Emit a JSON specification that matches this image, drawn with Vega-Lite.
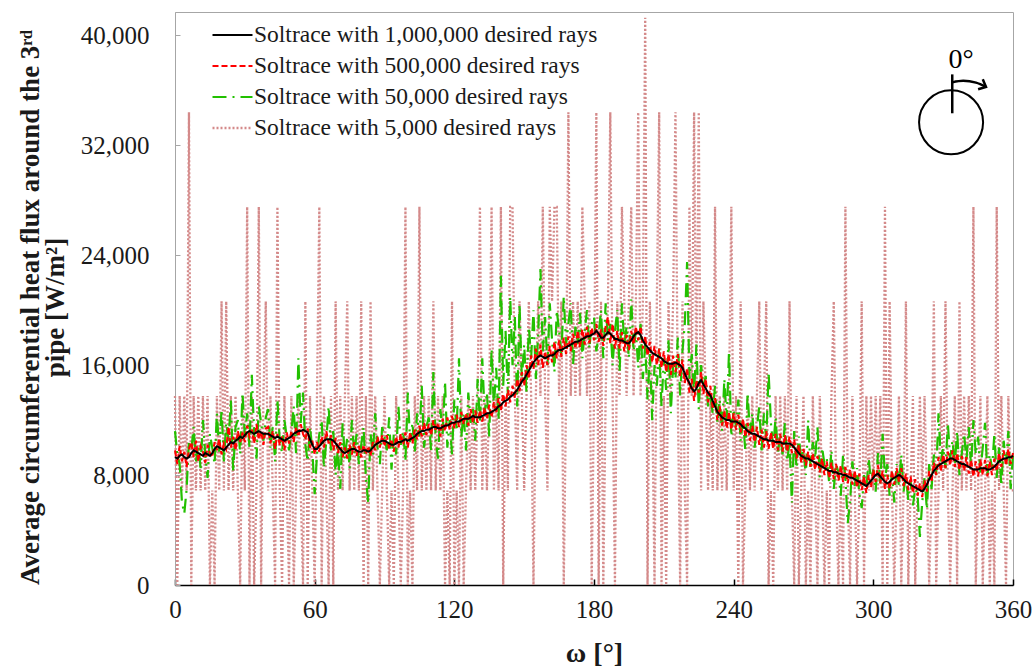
{
"$schema": "https://vega.github.io/schema/vega-lite/v6.json",
"width": 838, "height": 573,
"autosize": "none",
"padding": {"left": 175, "top": 12, "right": 23, "bottom": 86},
"background": "white",
"config": {"view": {"stroke": "#a6a6a6", "strokeWidth": 1}, "font": "Liberation Serif", "axis": {"grid": false, "labelFont": "Liberation Serif", "titleFont": "Liberation Serif"}},
"layer": [
{
"data": {"values": [
{"w":0,"a":9300,"b":9800,"c":11200,"d":13760},
{"w":1,"a":9200,"b":8800,"c":9500,"d":0},
{"w":2,"a":9400,"b":10100,"c":8800,"d":13760},
{"w":3,"a":9500,"b":9000,"c":6000,"d":6880},
{"w":4,"a":9300,"b":9700,"c":5200,"d":13760},
{"w":5,"a":9200,"b":8600,"c":7000,"d":6880},
{"w":6,"a":9300,"b":9900,"c":10500,"d":34400},
{"w":7,"a":9600,"b":10400,"c":9800,"d":0},
{"w":8,"a":9800,"b":9300,"c":11500,"d":13760},
{"w":9,"a":9700,"b":10500,"c":9000,"d":6880},
{"w":10,"a":9600,"b":9000,"c":10200,"d":13760},
{"w":11,"a":9500,"b":10100,"c":8500,"d":6880},
{"w":12,"a":9400,"b":9700,"c":12000,"d":13760},
{"w":13,"a":9600,"b":8900,"c":9500,"d":6880},
{"w":14,"a":9500,"b":10200,"c":7800,"d":13760},
{"w":15,"a":9400,"b":9600,"c":11000,"d":0},
{"w":16,"a":9600,"b":9300,"c":10000,"d":6880},
{"w":17,"a":9900,"b":10400,"c":8800,"d":0},
{"w":18,"a":10100,"b":9800,"c":12500,"d":13760},
{"w":19,"a":10000,"b":10600,"c":9700,"d":6880},
{"w":20,"a":9900,"b":9500,"c":12800,"d":20640},
{"w":21,"a":9800,"b":10300,"c":9000,"d":6880},
{"w":22,"a":10000,"b":9900,"c":11800,"d":20640},
{"w":23,"a":10200,"b":11500,"c":10500,"d":6880},
{"w":24,"a":10400,"b":10000,"c":13500,"d":13760},
{"w":25,"a":10300,"b":10800,"c":8200,"d":6880},
{"w":26,"a":10500,"b":9800,"c":11500,"d":13760},
{"w":27,"a":10600,"b":11200,"c":12000,"d":6880},
{"w":28,"a":10800,"b":10400,"c":9500,"d":0},
{"w":29,"a":10700,"b":11100,"c":14000,"d":13760},
{"w":30,"a":10900,"b":10400,"c":10800,"d":6880},
{"w":31,"a":11100,"b":11600,"c":12500,"d":27520},
{"w":32,"a":11200,"b":10800,"c":10000,"d":0},
{"w":33,"a":11100,"b":11300,"c":15300,"d":13760},
{"w":34,"a":11000,"b":10300,"c":11000,"d":0},
{"w":35,"a":11100,"b":11700,"c":9200,"d":6880},
{"w":36,"a":11200,"b":10600,"c":13000,"d":27520},
{"w":37,"a":11100,"b":11200,"c":11800,"d":0},
{"w":38,"a":11000,"b":10200,"c":10500,"d":13760},
{"w":39,"a":11000,"b":11400,"c":12200,"d":20640},
{"w":40,"a":11000,"b":11500,"c":12800,"d":6880},
{"w":41,"a":10900,"b":10300,"c":10000,"d":13760},
{"w":42,"a":10800,"b":11200,"c":11500,"d":6880},
{"w":43,"a":10700,"b":9900,"c":9000,"d":0},
{"w":44,"a":10800,"b":11000,"c":13500,"d":27520},
{"w":45,"a":10700,"b":10200,"c":10500,"d":6880},
{"w":46,"a":10600,"b":10800,"c":9600,"d":0},
{"w":47,"a":10500,"b":9800,"c":12000,"d":13760},
{"w":48,"a":10600,"b":11100,"c":10800,"d":6880},
{"w":49,"a":10700,"b":10300,"c":9800,"d":0},
{"w":50,"a":10800,"b":11200,"c":11200,"d":13760},
{"w":51,"a":11000,"b":10400,"c":13000,"d":0},
{"w":52,"a":11100,"b":11500,"c":9600,"d":6880},
{"w":53,"a":11200,"b":10800,"c":16500,"d":13760},
{"w":54,"a":11200,"b":11700,"c":11800,"d":6880},
{"w":55,"a":11300,"b":11000,"c":14000,"d":0},
{"w":56,"a":11200,"b":10600,"c":10200,"d":20640},
{"w":57,"a":11100,"b":11400,"c":9000,"d":0},
{"w":58,"a":10600,"b":10000,"c":11500,"d":13760},
{"w":59,"a":10200,"b":10500,"c":9800,"d":6880},
{"w":60,"a":9900,"b":9500,"c":6600,"d":0},
{"w":61,"a":9900,"b":10400,"c":9500,"d":13760},
{"w":62,"a":10100,"b":9700,"c":11000,"d":27520},
{"w":63,"a":10300,"b":10800,"c":12000,"d":0},
{"w":64,"a":10500,"b":10000,"c":8500,"d":13760},
{"w":65,"a":10600,"b":11200,"c":10500,"d":6880},
{"w":66,"a":10600,"b":10300,"c":13000,"d":0},
{"w":67,"a":10600,"b":10900,"c":9800,"d":13760},
{"w":68,"a":10500,"b":9800,"c":11200,"d":0},
{"w":69,"a":10300,"b":10700,"c":8000,"d":20640},
{"w":70,"a":10100,"b":9600,"c":10000,"d":6880},
{"w":71,"a":9900,"b":10400,"c":7000,"d":13760},
{"w":72,"a":9700,"b":9300,"c":11800,"d":6880},
{"w":73,"a":9600,"b":10000,"c":9200,"d":13760},
{"w":74,"a":9700,"b":9200,"c":10800,"d":20640},
{"w":75,"a":9800,"b":10200,"c":8500,"d":6880},
{"w":76,"a":9900,"b":9500,"c":12000,"d":13760},
{"w":77,"a":9900,"b":10400,"c":9500,"d":6880},
{"w":78,"a":9800,"b":9400,"c":11000,"d":13760},
{"w":79,"a":9700,"b":10100,"c":8800,"d":6880},
{"w":80,"a":9700,"b":9300,"c":10200,"d":20640},
{"w":81,"a":9800,"b":10200,"c":11500,"d":0},
{"w":82,"a":9800,"b":9500,"c":7800,"d":13760},
{"w":83,"a":9700,"b":10100,"c":6000,"d":0},
{"w":84,"a":9800,"b":9400,"c":11000,"d":20640},
{"w":85,"a":10000,"b":10400,"c":9500,"d":6880},
{"w":86,"a":10200,"b":9800,"c":12500,"d":13760},
{"w":87,"a":10300,"b":10800,"c":10000,"d":6880},
{"w":88,"a":10400,"b":10000,"c":8800,"d":0},
{"w":89,"a":10500,"b":10900,"c":11500,"d":6880},
{"w":90,"a":10500,"b":10100,"c":10800,"d":13760},
{"w":91,"a":10400,"b":10900,"c":9800,"d":6880},
{"w":92,"a":10300,"b":9900,"c":12200,"d":0},
{"w":93,"a":10200,"b":10600,"c":8400,"d":6880},
{"w":94,"a":10200,"b":9700,"c":11000,"d":0},
{"w":95,"a":10300,"b":10800,"c":9500,"d":13760},
{"w":96,"a":10400,"b":10000,"c":13000,"d":6880},
{"w":97,"a":10400,"b":11000,"c":10200,"d":0},
{"w":98,"a":10500,"b":10200,"c":11200,"d":6880},
{"w":99,"a":10600,"b":11100,"c":9000,"d":27520},
{"w":100,"a":10500,"b":10000,"c":14000,"d":0},
{"w":101,"a":10600,"b":11100,"c":10400,"d":6880},
{"w":102,"a":10700,"b":10300,"c":11800,"d":0},
{"w":103,"a":10800,"b":11300,"c":9600,"d":13760},
{"w":104,"a":11000,"b":10600,"c":12500,"d":6880},
{"w":105,"a":11100,"b":11600,"c":10800,"d":27520},
{"w":106,"a":11200,"b":10800,"c":14500,"d":6880},
{"w":107,"a":11200,"b":11800,"c":10000,"d":13760},
{"w":108,"a":11300,"b":10900,"c":11500,"d":6880},
{"w":109,"a":11300,"b":11700,"c":12200,"d":13760},
{"w":110,"a":11400,"b":10900,"c":9800,"d":6880},
{"w":111,"a":11500,"b":12000,"c":15500,"d":20640},
{"w":112,"a":11500,"b":11200,"c":10500,"d":6880},
{"w":113,"a":11400,"b":11800,"c":9200,"d":13760},
{"w":114,"a":11400,"b":10800,"c":12800,"d":6880},
{"w":115,"a":11500,"b":12100,"c":11000,"d":13760},
{"w":116,"a":11600,"b":11200,"c":14800,"d":0},
{"w":117,"a":11600,"b":12200,"c":10000,"d":6880},
{"w":118,"a":11700,"b":11300,"c":12000,"d":0},
{"w":119,"a":11800,"b":12300,"c":9500,"d":20640},
{"w":120,"a":11800,"b":11400,"c":13500,"d":0},
{"w":121,"a":11900,"b":12400,"c":11200,"d":6880},
{"w":122,"a":11900,"b":11500,"c":16500,"d":0},
{"w":123,"a":12000,"b":12600,"c":10800,"d":13760},
{"w":124,"a":12100,"b":11700,"c":12500,"d":0},
{"w":125,"a":12100,"b":12500,"c":9800,"d":6880},
{"w":126,"a":12100,"b":11600,"c":14000,"d":13760},
{"w":127,"a":12200,"b":12800,"c":11800,"d":6880},
{"w":128,"a":12300,"b":11800,"c":13000,"d":13760},
{"w":129,"a":12200,"b":12700,"c":10500,"d":6880},
{"w":130,"a":12200,"b":11800,"c":15000,"d":13760},
{"w":131,"a":12200,"b":12700,"c":11800,"d":27520},
{"w":132,"a":12300,"b":11900,"c":16500,"d":6880},
{"w":133,"a":12400,"b":12900,"c":12500,"d":13760},
{"w":134,"a":12500,"b":12100,"c":14000,"d":6880},
{"w":135,"a":12500,"b":13100,"c":10800,"d":13760},
{"w":136,"a":12600,"b":12200,"c":17200,"d":27520},
{"w":137,"a":12700,"b":13300,"c":13000,"d":6880},
{"w":138,"a":12800,"b":12500,"c":15800,"d":13760},
{"w":139,"a":13000,"b":13600,"c":12000,"d":6880},
{"w":140,"a":13100,"b":12700,"c":22500,"d":27520},
{"w":141,"a":13300,"b":13900,"c":14500,"d":0},
{"w":142,"a":13400,"b":13000,"c":18500,"d":13760},
{"w":143,"a":13500,"b":14200,"c":13800,"d":6880},
{"w":144,"a":13700,"b":13300,"c":21000,"d":27520},
{"w":145,"a":13800,"b":14500,"c":16000,"d":27520},
{"w":146,"a":14000,"b":13600,"c":19500,"d":13760},
{"w":147,"a":14200,"b":15000,"c":13000,"d":6880},
{"w":148,"a":14500,"b":14100,"c":20500,"d":20640},
{"w":149,"a":14800,"b":15500,"c":15000,"d":13760},
{"w":150,"a":15000,"b":14500,"c":17500,"d":6880},
{"w":151,"a":15300,"b":16000,"c":14000,"d":13760},
{"w":152,"a":15600,"b":15000,"c":18800,"d":20640},
{"w":153,"a":15900,"b":16700,"c":16500,"d":13760},
{"w":154,"a":16200,"b":15700,"c":20000,"d":0},
{"w":155,"a":16400,"b":17200,"c":15000,"d":13760},
{"w":156,"a":16600,"b":16000,"c":18200,"d":20640},
{"w":157,"a":16700,"b":17500,"c":23000,"d":13760},
{"w":158,"a":16600,"b":15800,"c":17000,"d":27520},
{"w":159,"a":16500,"b":17000,"c":19500,"d":13760},
{"w":160,"a":16600,"b":16000,"c":16000,"d":6880},
{"w":161,"a":16700,"b":17400,"c":20500,"d":27520},
{"w":162,"a":16700,"b":16200,"c":17800,"d":20640},
{"w":163,"a":16800,"b":17700,"c":15500,"d":27520},
{"w":164,"a":17000,"b":16500,"c":20000,"d":27520},
{"w":165,"a":17100,"b":17800,"c":18500,"d":13760},
{"w":166,"a":17100,"b":16600,"c":16800,"d":20640},
{"w":167,"a":17200,"b":18000,"c":21000,"d":0},
{"w":168,"a":17300,"b":16800,"c":17500,"d":13760},
{"w":169,"a":17400,"b":18100,"c":19000,"d":34400},
{"w":170,"a":17500,"b":17000,"c":20500,"d":13760},
{"w":171,"a":17600,"b":18300,"c":16000,"d":20640},
{"w":172,"a":17700,"b":17200,"c":18800,"d":13760},
{"w":173,"a":17700,"b":18500,"c":17500,"d":20640},
{"w":174,"a":17800,"b":17300,"c":19800,"d":13760},
{"w":175,"a":17900,"b":18600,"c":16500,"d":27520},
{"w":176,"a":18000,"b":17500,"c":18500,"d":20640},
{"w":177,"a":18100,"b":18800,"c":20000,"d":13760},
{"w":178,"a":18100,"b":17600,"c":17200,"d":20640},
{"w":179,"a":18200,"b":18700,"c":19000,"d":0},
{"w":180,"a":18300,"b":17800,"c":19500,"d":13760},
{"w":181,"a":18500,"b":19000,"c":17000,"d":34400},
{"w":182,"a":18300,"b":17700,"c":18200,"d":0},
{"w":183,"a":18000,"b":18600,"c":20000,"d":20640},
{"w":184,"a":18000,"b":17400,"c":16500,"d":0},
{"w":185,"a":18200,"b":18800,"c":20500,"d":13760},
{"w":186,"a":18400,"b":19500,"c":17800,"d":20640},
{"w":187,"a":18300,"b":17600,"c":19000,"d":34400},
{"w":188,"a":18100,"b":19000,"c":16000,"d":13760},
{"w":189,"a":17900,"b":17200,"c":18500,"d":0},
{"w":190,"a":17900,"b":18500,"c":20000,"d":20640},
{"w":191,"a":17800,"b":17200,"c":15500,"d":13760},
{"w":192,"a":17800,"b":18400,"c":20500,"d":27520},
{"w":193,"a":17700,"b":17000,"c":17500,"d":20640},
{"w":194,"a":17600,"b":18200,"c":18800,"d":13760},
{"w":195,"a":17600,"b":17100,"c":16500,"d":20640},
{"w":196,"a":17800,"b":18500,"c":20800,"d":27520},
{"w":197,"a":18100,"b":17500,"c":17000,"d":13760},
{"w":198,"a":18300,"b":18800,"c":18500,"d":20640},
{"w":199,"a":18400,"b":17800,"c":15800,"d":34400},
{"w":200,"a":18200,"b":18800,"c":19000,"d":13760},
{"w":201,"a":17800,"b":17200,"c":15000,"d":20640},
{"w":202,"a":17500,"b":18100,"c":17500,"d":41280},
{"w":203,"a":17300,"b":16700,"c":13500,"d":0},
{"w":204,"a":17100,"b":17700,"c":16800,"d":20640},
{"w":205,"a":16900,"b":16200,"c":12000,"d":13760},
{"w":206,"a":16800,"b":17400,"c":16000,"d":0},
{"w":207,"a":16700,"b":16000,"c":14500,"d":20640},
{"w":208,"a":16600,"b":17200,"c":17200,"d":34400},
{"w":209,"a":16500,"b":15800,"c":13000,"d":0},
{"w":210,"a":16300,"b":17000,"c":16500,"d":13760},
{"w":211,"a":16200,"b":15500,"c":14200,"d":0},
{"w":212,"a":16100,"b":16800,"c":17800,"d":20640},
{"w":213,"a":16100,"b":15300,"c":12500,"d":13760},
{"w":214,"a":16100,"b":16700,"c":16000,"d":20640},
{"w":215,"a":16200,"b":15500,"c":15000,"d":34400},
{"w":216,"a":16100,"b":16800,"c":18000,"d":13760},
{"w":217,"a":16000,"b":15200,"c":13800,"d":0},
{"w":218,"a":15800,"b":16400,"c":17000,"d":20640},
{"w":219,"a":15400,"b":14700,"c":19000,"d":6880},
{"w":220,"a":15000,"b":15800,"c":23500,"d":0},
{"w":221,"a":14700,"b":14000,"c":15000,"d":27520},
{"w":222,"a":14300,"b":15000,"c":16800,"d":13760},
{"w":223,"a":14100,"b":13400,"c":14000,"d":34400},
{"w":224,"a":14300,"b":14900,"c":17500,"d":13760},
{"w":225,"a":14700,"b":14000,"c":12800,"d":34400},
{"w":226,"a":14900,"b":15500,"c":16000,"d":6880},
{"w":227,"a":14600,"b":13900,"c":14500,"d":20640},
{"w":228,"a":14300,"b":15000,"c":15200,"d":13760},
{"w":229,"a":14000,"b":13300,"c":13000,"d":6880},
{"w":230,"a":13800,"b":14500,"c":13800,"d":13760},
{"w":231,"a":13400,"b":12800,"c":12500,"d":6880},
{"w":232,"a":13000,"b":13600,"c":14500,"d":27520},
{"w":233,"a":12600,"b":12000,"c":11800,"d":6880},
{"w":234,"a":12400,"b":13000,"c":13500,"d":13760},
{"w":235,"a":12200,"b":11600,"c":11200,"d":6880},
{"w":236,"a":12100,"b":12700,"c":15000,"d":13760},
{"w":237,"a":12000,"b":11400,"c":12000,"d":6880},
{"w":238,"a":12000,"b":12600,"c":17000,"d":13760},
{"w":239,"a":11900,"b":11300,"c":10800,"d":27520},
{"w":240,"a":11900,"b":12500,"c":12800,"d":6880},
{"w":241,"a":11900,"b":11300,"c":11500,"d":13760},
{"w":242,"a":11800,"b":12400,"c":13500,"d":0},
{"w":243,"a":11700,"b":11100,"c":10500,"d":20640},
{"w":244,"a":11500,"b":12100,"c":12000,"d":0},
{"w":245,"a":11400,"b":10800,"c":9800,"d":6880},
{"w":246,"a":11200,"b":11800,"c":14000,"d":13760},
{"w":247,"a":11100,"b":10500,"c":11000,"d":6880},
{"w":248,"a":11000,"b":11600,"c":12500,"d":13760},
{"w":249,"a":11000,"b":10400,"c":10000,"d":6880},
{"w":250,"a":10900,"b":11500,"c":11500,"d":13760},
{"w":251,"a":10800,"b":10200,"c":13000,"d":20640},
{"w":252,"a":10700,"b":11300,"c":9800,"d":6880},
{"w":253,"a":10600,"b":10000,"c":12500,"d":13760},
{"w":254,"a":10600,"b":11200,"c":10500,"d":20640},
{"w":255,"a":10500,"b":9900,"c":15500,"d":0},
{"w":256,"a":10500,"b":11100,"c":11800,"d":6880},
{"w":257,"a":10500,"b":9900,"c":10000,"d":0},
{"w":258,"a":10400,"b":11000,"c":12200,"d":13760},
{"w":259,"a":10400,"b":9800,"c":9600,"d":6880},
{"w":260,"a":10400,"b":11000,"c":11000,"d":13760},
{"w":261,"a":10300,"b":9700,"c":9500,"d":6880},
{"w":262,"a":10300,"b":10900,"c":11800,"d":13760},
{"w":263,"a":10300,"b":9700,"c":9000,"d":6880},
{"w":264,"a":10300,"b":10800,"c":10400,"d":20640},
{"w":265,"a":10200,"b":9600,"c":6000,"d":6880},
{"w":266,"a":10000,"b":10600,"c":11200,"d":0},
{"w":267,"a":9800,"b":9200,"c":8500,"d":13760},
{"w":268,"a":9600,"b":10200,"c":10800,"d":0},
{"w":269,"a":9400,"b":8900,"c":9200,"d":6880},
{"w":270,"a":9300,"b":9900,"c":9800,"d":13760},
{"w":271,"a":9200,"b":8700,"c":8000,"d":0},
{"w":272,"a":9200,"b":9700,"c":12000,"d":6880},
{"w":273,"a":9100,"b":8600,"c":8600,"d":0},
{"w":274,"a":9000,"b":9600,"c":10400,"d":13760},
{"w":275,"a":8900,"b":8400,"c":9200,"d":6880},
{"w":276,"a":8800,"b":9400,"c":11500,"d":0},
{"w":277,"a":8700,"b":8200,"c":7800,"d":13760},
{"w":278,"a":8600,"b":9200,"c":10000,"d":6880},
{"w":279,"a":8500,"b":8000,"c":8800,"d":0},
{"w":280,"a":8400,"b":9000,"c":9200,"d":6880},
{"w":281,"a":8300,"b":7800,"c":7500,"d":0},
{"w":282,"a":8300,"b":8900,"c":9800,"d":13760},
{"w":283,"a":8200,"b":7700,"c":7000,"d":20640},
{"w":284,"a":8200,"b":8800,"c":8800,"d":6880},
{"w":285,"a":8100,"b":7600,"c":8200,"d":0},
{"w":286,"a":8100,"b":8700,"c":6500,"d":6880},
{"w":287,"a":8000,"b":7500,"c":9500,"d":0},
{"w":288,"a":8000,"b":8600,"c":7800,"d":27520},
{"w":289,"a":7900,"b":7400,"c":4500,"d":6880},
{"w":290,"a":7800,"b":8400,"c":6000,"d":0},
{"w":291,"a":7800,"b":7300,"c":9000,"d":13760},
{"w":292,"a":7700,"b":8300,"c":7200,"d":6880},
{"w":293,"a":7600,"b":7100,"c":8500,"d":0},
{"w":294,"a":7500,"b":8100,"c":6600,"d":6880},
{"w":295,"a":7400,"b":6900,"c":5600,"d":20640},
{"w":296,"a":7300,"b":7900,"c":8000,"d":0},
{"w":297,"a":7200,"b":6700,"c":7000,"d":13760},
{"w":298,"a":7400,"b":8000,"c":9200,"d":6880},
{"w":299,"a":7600,"b":7100,"c":7500,"d":13760},
{"w":300,"a":7800,"b":8400,"c":8400,"d":6880},
{"w":301,"a":8000,"b":7500,"c":6800,"d":13760},
{"w":302,"a":8100,"b":8700,"c":9600,"d":6880},
{"w":303,"a":7900,"b":7400,"c":7400,"d":13760},
{"w":304,"a":7700,"b":8300,"c":11000,"d":0},
{"w":305,"a":7500,"b":7000,"c":7800,"d":27520},
{"w":306,"a":7400,"b":8000,"c":8800,"d":0},
{"w":307,"a":7500,"b":7000,"c":6500,"d":20640},
{"w":308,"a":7700,"b":8300,"c":8200,"d":6880},
{"w":309,"a":7800,"b":7300,"c":6000,"d":0},
{"w":310,"a":7900,"b":8500,"c":8800,"d":6880},
{"w":311,"a":8000,"b":7500,"c":7200,"d":13760},
{"w":312,"a":7900,"b":8500,"c":9500,"d":0},
{"w":313,"a":7700,"b":7200,"c":6800,"d":6880},
{"w":314,"a":7500,"b":8100,"c":8000,"d":20640},
{"w":315,"a":7400,"b":6900,"c":6200,"d":0},
{"w":316,"a":7300,"b":7900,"c":7600,"d":6880},
{"w":317,"a":7200,"b":6700,"c":5800,"d":13760},
{"w":318,"a":7100,"b":7700,"c":7000,"d":0},
{"w":319,"a":7000,"b":6500,"c":6600,"d":6880},
{"w":320,"a":6900,"b":7400,"c":3500,"d":13760},
{"w":321,"a":6800,"b":6400,"c":6000,"d":6880},
{"w":322,"a":7000,"b":7600,"c":7800,"d":13760},
{"w":323,"a":7300,"b":6800,"c":5500,"d":6880},
{"w":324,"a":7700,"b":8300,"c":8800,"d":0},
{"w":325,"a":8000,"b":7500,"c":7000,"d":6880},
{"w":326,"a":8300,"b":8900,"c":9500,"d":20640},
{"w":327,"a":8500,"b":8000,"c":8000,"d":0},
{"w":328,"a":8700,"b":9300,"c":12500,"d":6880},
{"w":329,"a":8800,"b":8300,"c":9000,"d":13760},
{"w":330,"a":8900,"b":9500,"c":10000,"d":6880},
{"w":331,"a":9000,"b":8500,"c":8500,"d":20640},
{"w":332,"a":9100,"b":9700,"c":11800,"d":6880},
{"w":333,"a":9200,"b":8700,"c":9200,"d":0},
{"w":334,"a":9200,"b":9800,"c":10500,"d":6880},
{"w":335,"a":9100,"b":8600,"c":8800,"d":13760},
{"w":336,"a":9000,"b":9600,"c":11200,"d":0},
{"w":337,"a":8900,"b":8400,"c":8000,"d":20640},
{"w":338,"a":8800,"b":9400,"c":9600,"d":6880},
{"w":339,"a":8800,"b":8300,"c":11000,"d":13760},
{"w":340,"a":8700,"b":9300,"c":9000,"d":6880},
{"w":341,"a":8600,"b":8100,"c":11500,"d":13760},
{"w":342,"a":8500,"b":9100,"c":8500,"d":6880},
{"w":343,"a":8400,"b":7900,"c":12000,"d":27520},
{"w":344,"a":8400,"b":9000,"c":9500,"d":0},
{"w":345,"a":8400,"b":7900,"c":10800,"d":6880},
{"w":346,"a":8500,"b":9100,"c":8200,"d":13760},
{"w":347,"a":8500,"b":8000,"c":10000,"d":0},
{"w":348,"a":8500,"b":9100,"c":11800,"d":6880},
{"w":349,"a":8400,"b":7900,"c":8000,"d":13760},
{"w":350,"a":8400,"b":9000,"c":9500,"d":0},
{"w":351,"a":8500,"b":8000,"c":8500,"d":6880},
{"w":352,"a":8600,"b":9200,"c":11000,"d":0},
{"w":353,"a":8800,"b":8300,"c":7800,"d":27520},
{"w":354,"a":9000,"b":9600,"c":10000,"d":6880},
{"w":355,"a":9100,"b":8600,"c":7200,"d":13760},
{"w":356,"a":9200,"b":9800,"c":10500,"d":6880},
{"w":357,"a":9200,"b":8700,"c":8800,"d":0},
{"w":358,"a":9300,"b":9900,"c":11200,"d":13760},
{"w":359,"a":9300,"b":8800,"c":7000,"d":6880},
{"w":360,"a":9400,"b":9600,"c":9500,"d":6880}
]},
"transform": [{"fold": ["d", "c", "b", "a"], "as": ["s", "v"]}],
"mark": {"type": "line"},
"encoding": {
"x": {"field": "w", "type": "quantitative", "scale": {"domain": [0, 360], "nice": false, "zero": false},
 "axis": {"title": "ω [°]", "values": [0, 60, 120, 180, 240, 300, 360], "domainColor": "#000000", "domainWidth": 1.5, "tickColor": "#000000", "tickWidth": 1.5, "tickSize": -6, "labelFontSize": 25, "labelColor": "#1a1a1a", "labelPadding": 18, "labelFlush": false, "titleFontSize": 28, "titleFontWeight": "bold", "titleColor": "#1a1a1a", "titlePadding": 17}},
"y": {"field": "v", "type": "quantitative", "scale": {"domain": [0, 41700], "nice": false},
 "axis": {"title": ["Average circumferential heat flux around the 3ʳᵈ", "pipe [W/m²]"], "values": [0, 8000, 16000, 24000, 32000, 40000], "format": ",.0f", "domainColor": "#a6a6a6", "tickColor": "#a6a6a6", "tickSize": -5, "labelFontSize": 25, "labelColor": "#1a1a1a", "labelPadding": 31, "titleFontSize": 27, "titleFontWeight": "bold", "titleColor": "#1a1a1a", "titleAngle": -90, "titleX": -137, "titleY": 295, "titleAlign": "center", "titleBaseline": "alphabetic", "titleLineHeight": 25}},
"color": {"field": "s", "type": "nominal", "scale": {"domain": ["a", "b", "c", "d"], "range": ["#000000", "#ff0000", "#22c000", "#d48a8a"]},
 "legend": {"title": null, "orient": "none", "legendX": 36, "legendY": 11, "padding": 0, "symbolType": "stroke", "symbolSize": 1600, "labelFont": "Liberation Serif", "labelFontSize": 23.5, "labelColor": "#1a1a1a", "labelOffset": 0, "rowPadding": 7, "clipHeight": 24, "labelLimit": 500, "labelExpr": "datum.value == 'a' ? 'Soltrace with 1,000,000 desired rays' : datum.value == 'b' ? 'Soltrace with 500,000 desired rays' : datum.value == 'c' ? 'Soltrace with 50,000 desired rays' : 'Soltrace with 5,000 desired rays'"}},
"strokeDash": {"field": "s", "type": "nominal", "scale": {"domain": ["a", "b", "c", "d"], "range": [[1, 0], [6, 3], [14, 6, 2, 6], [2, 2]]},
 "legend": {"title": null, "orient": "none", "legendX": 36, "legendY": 11, "padding": 0, "symbolType": "stroke", "symbolSize": 1600, "labelFont": "Liberation Serif", "labelFontSize": 23.5, "labelColor": "#1a1a1a", "labelOffset": 0, "rowPadding": 7, "clipHeight": 24, "labelLimit": 500, "labelExpr": "datum.value == 'a' ? 'Soltrace with 1,000,000 desired rays' : datum.value == 'b' ? 'Soltrace with 500,000 desired rays' : datum.value == 'c' ? 'Soltrace with 50,000 desired rays' : 'Soltrace with 5,000 desired rays'"}},
"strokeWidth": {"field": "s", "type": "nominal", "scale": {"domain": ["a", "b", "c", "d"], "range": [2, 2.3, 3, 1.7]},
 "legend": {"title": null, "orient": "none", "legendX": 36, "legendY": 11, "padding": 0, "symbolType": "stroke", "symbolSize": 1600, "labelFont": "Liberation Serif", "labelFontSize": 23.5, "labelColor": "#1a1a1a", "labelOffset": 0, "rowPadding": 7, "clipHeight": 24, "labelLimit": 500, "labelExpr": "datum.value == 'a' ? 'Soltrace with 1,000,000 desired rays' : datum.value == 'b' ? 'Soltrace with 500,000 desired rays' : datum.value == 'c' ? 'Soltrace with 50,000 desired rays' : 'Soltrace with 5,000 desired rays'"}}
}
},
{
"data": {"values": [{"w": 333.4, "v": 33670}]},
"mark": {"type": "point", "shape": "circle", "size": 4100, "filled": false, "stroke": "#000000", "strokeWidth": 2, "opacity": 1},
"encoding": {"x": {"field": "w", "type": "quantitative"}, "y": {"field": "v", "type": "quantitative"}}
},
{
"data": {"values": [{"w": 333.9, "v": 34330, "v2": 37160}]},
"mark": {"type": "rule", "stroke": "#000000", "strokeWidth": 2.5},
"encoding": {"x": {"field": "w", "type": "quantitative"}, "y": {"field": "v", "type": "quantitative"}, "y2": {"field": "v2"}}
},
{
"data": {"values": [{"w": 333.9, "v": 36580}, {"w": 338.6, "v": 36690}, {"w": 344.1, "v": 36560}, {"w": 348.4, "v": 36250}]},
"mark": {"type": "line", "stroke": "#000000", "strokeWidth": 2.5, "interpolate": "monotone"},
"encoding": {"x": {"field": "w", "type": "quantitative"}, "y": {"field": "v", "type": "quantitative"}}
},
{
"data": {"values": [{"w": 348.4, "v": 36250}]},
"mark": {"type": "point", "shape": "M-1,-0.9L0,0L-1,0.9", "size": 150, "filled": false, "stroke": "#000000", "strokeWidth": 2.5, "angle": 25, "opacity": 1},
"encoding": {"x": {"field": "w", "type": "quantitative"}, "y": {"field": "v", "type": "quantitative"}}
},
{
"data": {"values": [{"w": 337.7, "v": 38180, "t": "0°"}]},
"mark": {"type": "text", "font": "Liberation Serif", "fontSize": 28, "color": "#000000"},
"encoding": {"x": {"field": "w", "type": "quantitative"}, "y": {"field": "v", "type": "quantitative"}, "text": {"field": "t"}}
}
]
}
